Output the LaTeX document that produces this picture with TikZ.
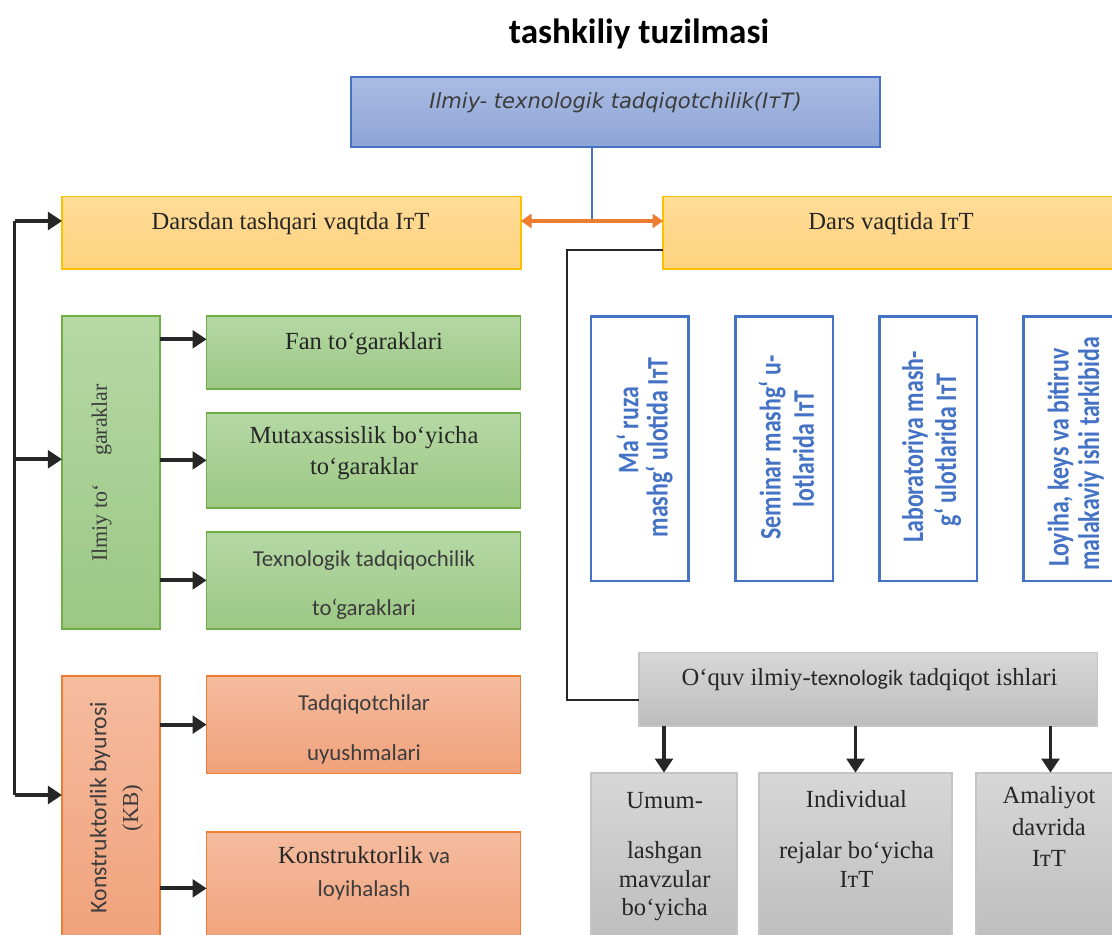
\documentclass[tikz,border=0pt]{standalone}
\usepackage{fontspec}
\setmainfont{Liberation Serif}
\newfontfamily\calf{Carlito}
\newfontfamily\dvsf{DejaVu Sans}
\newfontfamily\condf{Carlito}[FakeStretch=0.8]
\usetikzlibrary{arrows.meta,calc,shadings}
\definecolor{ybd}{HTML}{FFC000}
\definecolor{ytop}{HTML}{FFDC98}
\definecolor{ybot}{HTML}{FFD27E}
\definecolor{gbd}{HTML}{70AD47}
\definecolor{gtop}{HTML}{B5D8A5}
\definecolor{gbot}{HTML}{9CC884}
\definecolor{obd}{HTML}{ED7D31}
\definecolor{otop}{HTML}{F5BC9F}
\definecolor{obot}{HTML}{F0A27B}
\definecolor{bbd}{HTML}{4472C4}
\definecolor{btop}{HTML}{AABCE3}
\definecolor{bbot}{HTML}{8DA4D6}
\definecolor{grbd}{HTML}{C4C4C4}
\definecolor{grtop}{HTML}{D7D7D7}
\definecolor{grbot}{HTML}{BDBDBD}
\definecolor{txtc}{HTML}{262626}
\definecolor{tgray}{HTML}{3C3C3C}
\begin{document}
\begin{tikzpicture}[x=0.02cm,y=-0.02cm,
  box/.style={line width=0.9pt, inner sep=0pt, outer sep=0pt},
  tbox/.style={box, draw=bbd, top color=btop, bottom color=bbot},
  ybox/.style={box, draw=ybd, top color=ytop, bottom color=ybot},
  gbox/.style={box, draw=gbd, top color=gtop, bottom color=gbot},
  obox/.style={box, draw=obd, top color=otop, bottom color=obot},
  grbox/.style={box, draw=grbd, top color=grtop, bottom color=grbot},
  bbox/.style={box, draw=bbd, line width=1.5pt, fill=white},
  txt/.style={anchor=base, inner sep=0pt, text=txtc, font=\fontsize{14}{16}\selectfont},
  ctxt/.style={txt, text=tgray, font=\calf\fontsize{13}{15}\selectfont},
  rtxt/.style={anchor=center, inner sep=0pt, rotate=90},
  btxt/.style={rtxt, text=bbd, font=\condf\bfseries\fontsize{17}{20}\selectfont},
  arr/.style={draw=txtc, line width=2.2pt, -{Triangle[length=8pt,width=10pt]}},
  oarr/.style={draw=obd, line width=1.8pt, {Triangle[length=6pt,width=8pt]}-{Triangle[length=6pt,width=8pt]}},
  blk/.style={draw=txtc, line width=1.2pt},
  bline/.style={draw=bbd, line width=1pt}
]
\useasboundingbox (0,0) rectangle (1112,935);
\clip (0,0) rectangle (1112,935);

% title
\node[txt, text=black, font=\calf\bfseries\fontsize{20}{24}\selectfont] (title) at (639,44) {tashkiliy tuzilmasi};

% top box
\node[tbox, minimum width=10.58cm, minimum height=1.40cm] (T) at (615.5,112) {};
\node[txt, text=tgray, font=\dvsf\itshape\fontsize{12}{14}\selectfont] (Tt) at (615.5,108.5) {Ilmiy- texnologik tadqiqotchilik(IтT)};

% yellow boxes
\node[ybox, minimum width=9.18cm, minimum height=1.45cm] (L) at (291.5,232.75) {};
\node[txt] (Lt) at (290.5,230) {Darsdan tashqari vaqtda IтT};
\node[ybox, minimum width=9.24cm, minimum height=1.45cm] (R) at (894,232.75) {};
\node[txt] (Rt) at (891,230) {Dars vaqtida IтT};

\coordinate (J) at (592,221);
\draw[bline] (T.south -| J) -- (J);
\draw[oarr] (J -| L.east) -- (J -| R.west);

% left spine
\coordinate (vtop) at (14.5,221);
\coordinate (vg) at (14.5,459.3);
\coordinate (vbot) at (14.5,795);
\draw[blk] (vtop) -- (vbot);
\draw[arr] (vtop) -- (vtop -| L.west);

% green group
\node[gbox, minimum width=1.96cm, minimum height=6.26cm] (GT) at (111,472.5) {};
\node[rtxt, text=tgray, font=\fontsize{12.5}{15}\selectfont] (GTt) at (101.6,473) {Ilmiy to‘\hspace{1.3em}garaklar};
\draw[arr] (vg) -- (vg -| GT.west);

\node[gbox, minimum width=6.28cm, minimum height=1.46cm] (G1) at (363.6,352.5) {};
\node[txt] (G1t) at (364,350) {Fan to‘garaklari};
\node[gbox, minimum width=6.28cm, minimum height=1.906cm] (G2) at (363.6,460.4) {};
\node[txt] (G2a) at (364,443.3) {Mutaxassislik bo‘yicha};
\node[txt] (G2b) at (364,475) {to‘garaklar};
\node[gbox, minimum width=6.28cm, minimum height=1.946cm] (G3) at (363.6,580.4) {};
\node[ctxt] (G3a) at (364,566) {Texnologik tadqiqochilik};
\node[ctxt] (G3b) at (364,615) {to‘garaklari};

\draw[arr] ($(GT.east |- G1.west)+(0,-13.2)$) -- ($(G1.west)+(0,-13.2)$);
\draw[arr] (GT.east |- G2.west) -- (G2.west);
\draw[arr] (GT.east |- G3.west) -- (G3.west);

% orange group
\node[obox, minimum width=1.96cm, minimum height=5.38cm] (OT) at (111,810.5) {};
\node[rtxt, text=tgray, font=\calf\fontsize{13.5}{16}\selectfont] (OTa) at (100,807.5) {Konstruktorlik byurosi};
\node[rtxt, text=tgray, font=\fontsize{13}{15}\selectfont] (OTb) at (132.6,808) {(KB)};
\draw[arr] (vbot) -- (vbot -| OT.west);

\node[obox, minimum width=6.28cm, minimum height=1.946cm] (O1) at (363.6,724.65) {};
\node[ctxt] (O1a) at (364,710) {Tadqiqotchilar};
\node[ctxt] (O1b) at (364,760) {uyushmalari};
\node[obox, minimum width=6.28cm, minimum height=2.266cm] (O2) at (363.6,888.35) {};
\node[txt] (O2a) at (364,863.3) {Konstruktorlik {\calf\color{tgray}\fontsize{13}{15}\selectfont va}};
\node[ctxt] (O2b) at (364,896.7) {loyihalash};

\draw[arr] (OT.east |- O1.west) -- (O1.west);
\draw[arr] (OT.east |- O2.west) -- (O2.west);

% blue outlined boxes
\node[bbox, minimum width=1.95cm, minimum height=5.29cm] (B1) at (639.75,448.75) {};
\node[btxt] (B1a) at (627.5,430) {Ma‘ ruza};
\node[btxt] (B1b) at (659,447.5) {mashg‘ ulotida IтT};
\node[bbox, minimum width=1.95cm, minimum height=5.29cm] (B2) at (784.1,448.75) {};
\node[btxt] (B2a) at (772,447.5) {Seminar mashg‘ u-};
\node[btxt] (B2b) at (803.5,449) {lotlarida IтT};
\node[bbox, minimum width=1.95cm, minimum height=5.29cm] (B3) at (928.3,448.75) {};
\node[btxt] (B3a) at (915,447) {Laboratoriya mash-};
\node[btxt] (B3b) at (947.5,450) {g‘ ulotlarida IтT};
\node[bbox, minimum width=1.95cm, minimum height=5.29cm] (B4) at (1072.4,448.75) {};
\node[btxt] (B4a) at (1060.5,457.5) {Loyiha, keys va bitiruv};
\node[btxt] (B4b) at (1091,454) {malakaviy ishi tarkibida};

% gray group
\node[grbox, minimum width=9.176cm, minimum height=1.466cm] (GR) at (868.3,689.35) {};
\node[txt] (GRt) at (869.5,685) {O‘quv ilmiy-{\calf\fontsize{12.5}{15}\selectfont texnologik} tadqiqot ishlari};
\draw[blk] ($(R.west)+(0,17.5)$) -- ++(-96,0) |- ($(GR.west)+(0,10.65)$);

\node[grbox, minimum width=2.92cm, minimum height=3.446cm] (D1) at (664,858.85) {};
\node[grbox, minimum width=3.86cm, minimum height=3.446cm] (D2) at (855.5,858.85) {};
\node[grbox, minimum width=2.98cm, minimum height=3.446cm] (D3) at (1050.5,858.85) {};
\draw[arr] (GR.south -| D1.north) -- (D1.north);
\draw[arr] (GR.south -| D2.north) -- (D2.north);
\draw[arr] (GR.south -| D3.north) -- (D3.north);

\node[txt] (D1a) at (664.7,808) {Umum-};
\node[txt] (D1b) at (664.7,858) {lashgan};
\node[txt] (D1c) at (664.7,887) {mavzular};
\node[txt] (D1d) at (664.7,915.5) {bo‘yicha};
\node[txt] (D2a) at (856.5,807) {Individual};
\node[txt] (D2b) at (856.5,858) {rejalar bo‘yicha};
\node[txt] (D2c) at (856.5,887) {IтT};
\node[txt] (D3a) at (1049,803) {Amaliyot};
\node[txt] (D3b) at (1049,835) {davrida};
\node[txt] (D3c) at (1049,866.5) {IтT};
\end{tikzpicture}
\end{document}
